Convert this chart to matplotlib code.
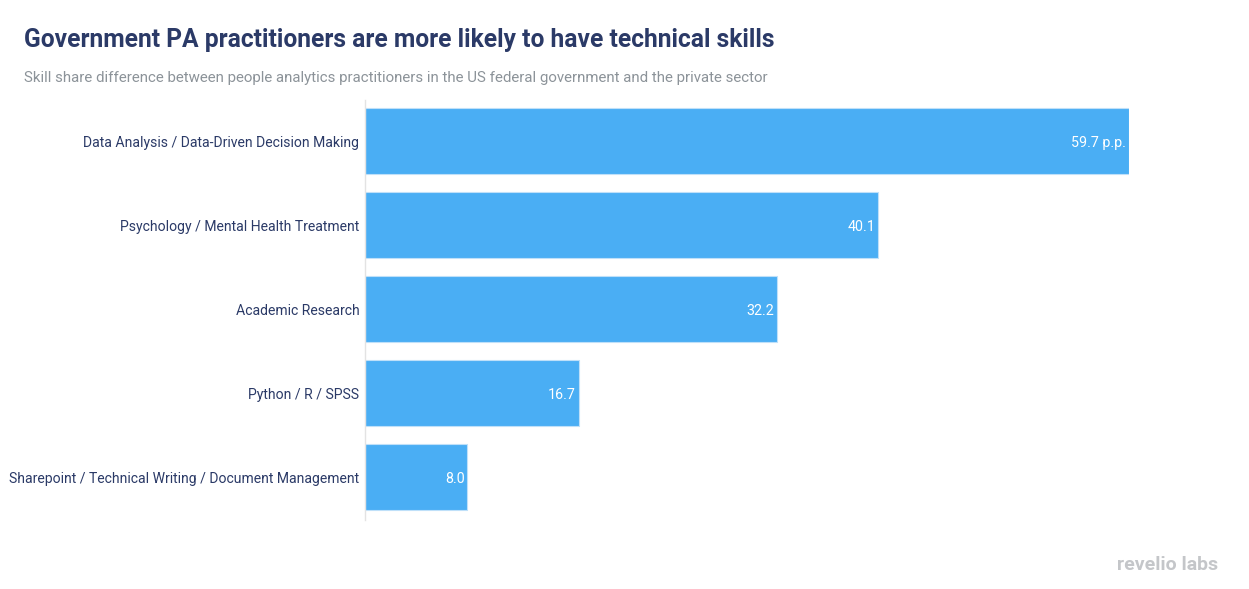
import matplotlib.pyplot as plt

plt.rcParams['font.family'] = ['Roboto', 'DejaVu Sans']

# data
skills = [
    "Data Analysis / Data-Driven Decision Making",
    "Psychology / Mental Health Treatment",
    "Academic Research",
    "Python / R / SPSS",
    "Sharepoint / Technical Writing / Document Management",
]
diff_pp = [59.7, 40.1, 32.2, 16.7, 8.0]
value_labels = ["59.7 p.p.", "40.1", "32.2", "16.7", "8.0"]

navy = "#2b3a67"
bar_color = "#4aaef4"

fig = plt.figure(figsize=(12.49, 5.89), dpi=100)
ax = fig.add_axes([365 / 1249, 1 - 520 / 589, (1129 - 365) / 1249, 420 / 589])

ypos = range(len(skills))
ax.barh(ypos, diff_pp, height=66 / 84, color=bar_color,
        edgecolor="#bfe0f9", linewidth=0.8)

for y, v, lab in zip(ypos, diff_pp, value_labels):
    ax.text(v - 0.22, y + 0.02, lab, color="white", fontsize=10.3,
            ha="right", va="center")

ax.set_xlim(0, 59.7)
ax.set_ylim(4.51, -0.49)
ax.set_yticks(list(ypos))
ax.set_yticklabels(skills, fontsize=10.1, color=navy)
ax.tick_params(axis="y", length=0, pad=4)
ax.set_xticks([])
for side in ["top", "right", "bottom"]:
    ax.spines[side].set_visible(False)
ax.spines["left"].set_color("#e3e3e3")
ax.spines["left"].set_linewidth(1)

fig.text(24 / 1249, 1 - 40 / 589, "Government PA practitioners are more likely to have technical skills",
         fontsize=17.7, fontweight="bold", color=navy, va="center", ha="left")
fig.text(24 / 1249, 1 - 78 / 589,
         "Skill share difference between people analytics practitioners in the US federal government and the private sector",
         fontsize=10.85, color="#8c9399", va="center", ha="left")
fig.text(1218 / 1249, 1 - 565 / 589, "revelio labs", fontsize=14, fontweight="bold",
         color="#c4c6c9", ha="right", va="center")

fig.savefig("out.png", dpi=100)
